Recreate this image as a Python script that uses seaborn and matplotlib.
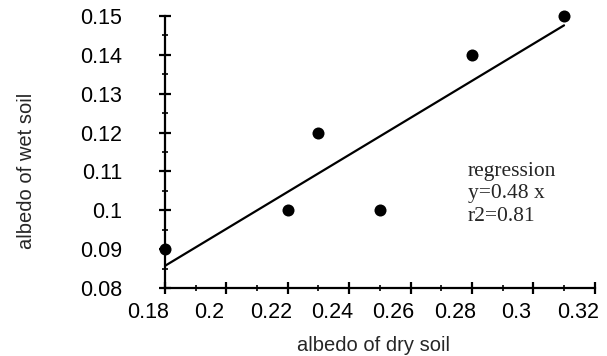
import matplotlib
matplotlib.use("Agg")
import matplotlib.pyplot as plt
import matplotlib.transforms as mtransforms
from matplotlib.ticker import MultipleLocator
import numpy as np
import pandas as pd
import seaborn as sns

# values
dry_albedo = [0.18, 0.22, 0.23, 0.25, 0.28, 0.31]
wet_albedo = [0.09, 0.10, 0.12, 0.10, 0.14, 0.15]
note_lines = ["regression", "y=0.48 x", "r2=0.81"]

sns.set_style("white")
plt.rcParams['font.family'] = ['Liberation Sans', 'DejaVu Sans']

df = pd.DataFrame({'dry': dry_albedo, 'wet': wet_albedo})

# regression through the origin
slope = (df.dry * df.wet).sum() / (df.dry ** 2).sum()
fit = pd.DataFrame({'dry': [df.dry.min(), df.dry.max()]})
fit['wet'] = slope * fit.dry

fig = plt.figure(figsize=(6.07, 3.56), dpi=100)
ax = fig.add_axes([0.2718, 0.191, 0.708, 0.764])

sns.lineplot(data=fit, x='dry', y='wet', color='black', linewidth=1.6, ax=ax)
sns.scatterplot(data=df, x='dry', y='wet', color='black', s=75, edgecolor='black',
                linewidth=0, ax=ax, clip_on=False, zorder=5)

ax.set_xlim(0.18, 0.32)
ax.set_ylim(0.08, 0.15)
ax.xaxis.set_minor_locator(MultipleLocator(0.01))
ax.yaxis.set_minor_locator(MultipleLocator(0.005))
ax.set_xticks([0.18, 0.20, 0.22, 0.24, 0.26, 0.28, 0.30, 0.32])
ax.set_xticklabels(['0.18', '0.2', '0.22', '0.24', '0.26', '0.28', '0.3', '0.32'])
ax.set_yticks([0.08, 0.09, 0.10, 0.11, 0.12, 0.13, 0.14, 0.15])
ax.set_yticklabels(['0.08', '0.09', '0.1', '0.11', '0.12', '0.13', '0.14', '0.15'])

for side in ['top', 'right']:
    ax.spines[side].set_visible(False)
for side in ['left', 'bottom']:
    ax.spines[side].set_linewidth(1.6)
    ax.spines[side].set_color('black')

ax.tick_params(which='both', bottom=True, left=True)
ax.tick_params(which='major', direction='inout', length=8, width=1.6, colors='black',
               labelsize=15.5)
ax.tick_params(which='minor', direction='inout', length=5, width=1.2, colors='black')
ax.tick_params(axis='y', which='major', pad=27)
ax.tick_params(axis='x', which='major', pad=6)

# the old chart draws its x labels a little left of the ticks
shift = mtransforms.ScaledTranslation(-0.17, 0, fig.dpi_scale_trans)
for lbl in ax.get_xticklabels():
    lbl.set_transform(lbl.get_transform() + shift)

ax.set_xlabel('albedo of dry soil', fontsize=14.5)
ax.set_ylabel('albedo of wet soil', fontsize=14.5)
ax.xaxis.set_label_coords(0.486, -0.175)
ax.yaxis.set_label_coords(-0.30, 0.43)

ax.text(0.705, 0.465, "\n".join(note_lines), transform=ax.transAxes, va='top', ha='left',
        fontsize=15.5, family=['Liberation Serif', 'DejaVu Serif'], linespacing=1.28)

fig.savefig('out.png', dpi=100)
